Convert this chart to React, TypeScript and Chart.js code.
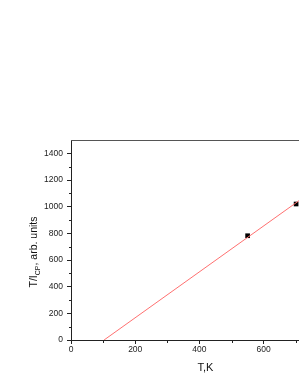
import React, { useEffect, useRef } from "react";
import { Chart, registerables } from "chart.js";

Chart.register(...registerables);

const fitLineX = [103, 710];
const fitLineY = [0, 1045];
const pointsX = [550, 701];
const pointsY = [782, 1020];
const xMajorTicks = [0, 200, 400, 600];
const xMinorTicks = [100, 300, 500, 700];
const yMinorTicks = [100, 300, 500, 700, 900, 1100, 1300];
const xTitle = "T,K";
const yTitleParts = ["T/I", "CP", ", arb. units"];

const FONT = '"Liberation Sans", Arial, sans-serif';
const AXIS_COLOR = "#222";

const framePlugin = {
  id: "frame",
  afterDraw(chart: any) {
    const { ctx, chartArea, scales } = chart;
    ctx.save();
    // top frame line
    ctx.strokeStyle = "#555";
    ctx.lineWidth = 1;
    ctx.beginPath();
    ctx.moveTo(chartArea.left, chartArea.top + 0.5);
    ctx.lineTo(chartArea.right, chartArea.top + 0.5);
    ctx.stroke();
    // minor ticks
    ctx.strokeStyle = AXIS_COLOR;
    const xs = scales.x;
    const ys = scales.y;
    for (const v of xMinorTicks) {
      const px = Math.round(xs.getPixelForValue(v)) + 0.5;
      ctx.beginPath();
      ctx.moveTo(px, chartArea.bottom);
      ctx.lineTo(px, chartArea.bottom + 3);
      ctx.stroke();
    }
    for (const v of yMinorTicks) {
      const py = Math.round(ys.getPixelForValue(v)) + 0.5;
      ctx.beginPath();
      ctx.moveTo(chartArea.left, py);
      ctx.lineTo(chartArea.left - 2, py);
      ctx.stroke();
    }
    // x title
    ctx.fillStyle = "#111";
    ctx.font = `11px ${FONT}`;
    ctx.textAlign = "center";
    ctx.textBaseline = "middle";
    ctx.fillText(xTitle, 205.5, 368);
    // y title with subscript
    const big = `10.5px ${FONT}`;
    const small = `7px ${FONT}`;
    ctx.font = big;
    const w0 = ctx.measureText(yTitleParts[0]).width;
    const w2 = ctx.measureText(yTitleParts[2]).width;
    ctx.font = small;
    const w1 = ctx.measureText(yTitleParts[1]).width;
    const total = w0 + w1 + w2;
    ctx.translate(37, 252);
    ctx.rotate(-Math.PI / 2);
    ctx.textAlign = "left";
    ctx.textBaseline = "alphabetic";
    let cx = -total / 2;
    ctx.font = big;
    ctx.fillText(yTitleParts[0], cx, 0);
    cx += w0;
    ctx.font = small;
    ctx.fillText(yTitleParts[1], cx, 2.5);
    cx += w1;
    ctx.font = big;
    ctx.fillText(yTitleParts[2], cx, 0);
    ctx.restore();
  },
};

export default function App() {
  const ref = useRef<HTMLCanvasElement | null>(null);
  useEffect(() => {
    if (!ref.current) return;
    const chart = new Chart(ref.current, {
      type: "scatter",
      data: {
        datasets: [
          {
            type: "line",
            data: fitLineX.map((x, i) => ({ x, y: fitLineY[i] })),
            borderColor: "#ff7070",
            borderWidth: 1,
            pointRadius: 0,
            fill: false,
          } as any,
          {
            data: pointsX.map((x, i) => ({ x, y: pointsY[i] })),
            pointStyle: "rect",
            pointRadius: 3.3,
            backgroundColor: "#000",
            borderColor: "#000",
            borderWidth: 0,
          },
        ],
      },
      options: {
        animation: false,
        responsive: false,
        events: [],
        layout: { autoPadding: false, padding: { top: 140, left: 0, right: 0, bottom: 0 } },
        plugins: { legend: { display: false }, tooltip: { enabled: false } },
        scales: {
          x: {
            type: "linear",
            min: 0,
            max: 710,
            afterFit: (s: any) => {
              s.height = 47;
              s.paddingLeft = 0;
              s.paddingRight = 0;
            },
            afterBuildTicks: (s: any) => {
              s.ticks = xMajorTicks.map((v) => ({ value: v }));
            },
            ticks: {
              includeBounds: false,
              padding: 1,
              color: "#222",
              font: { family: FONT, size: 8.5 },
              maxRotation: 0,
              callback: (v: any) => String(v),
            },
            grid: {
              drawOnChartArea: false,
              drawTicks: true,
              tickLength: 4,
              color: AXIS_COLOR,
            },
            border: { color: AXIS_COLOR, width: 1 },
          },
          y: {
            type: "linear",
            min: 0,
            max: 1500,
            afterFit: (s: any) => {
              s.width = 71;
              s.paddingTop = 0;
              s.paddingBottom = 0;
            },
            ticks: {
              stepSize: 200,
              includeBounds: false,
              padding: 4,
              color: "#222",
              font: { family: FONT, size: 8.5 },
              callback: (v: any) => String(v),
            },
            grid: {
              drawOnChartArea: false,
              drawTicks: true,
              tickLength: 4,
              color: AXIS_COLOR,
            },
            border: { color: AXIS_COLOR, width: 1 },
          },
        },
      },
      plugins: [framePlugin],
    });
    return () => chart.destroy();
  }, []);
  return (
    <div style={{ position: "fixed", left: 0, top: 0, width: 299, height: 387, background: "#fff" }}>
      <canvas ref={ref} width={299} height={387} />
    </div>
  );
}
